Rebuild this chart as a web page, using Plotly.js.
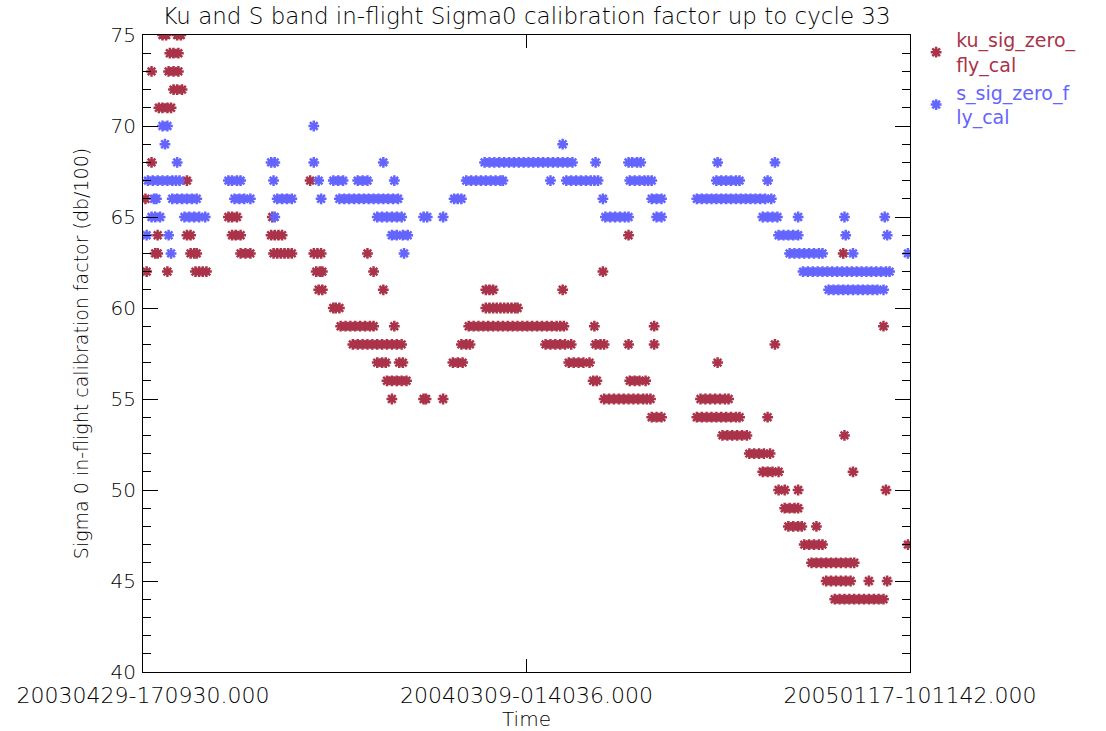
<!DOCTYPE html>
<html>
<head>
<meta charset="utf-8">
<script src="https://cdn.plot.ly/plotly-3.0.1.min.js"></script>
<style>
  html, body { margin: 0; padding: 0; background: #fff; }
  #chart { width: 1106px; height: 731px; }
</style>
</head>
<body>
<div id="chart"></div>
<script>
// Time axis: days elapsed since 20030429-170930.000
const timeTickDays = [0, 314.355, 628.71];
const timeTickLabels = ['20030429-170930.000', '20040309-014036.000', '20050117-101142.000'];

// Ku band in-flight Sigma0 calibration factor (db/100): [value, days at which it occurs]
const kuRows = [
  [75, [16, 19, 28, 31]],
  [74, [22, 25, 29]],
  [73, [7, 21, 25, 29]],
  [72, [25, 28, 32]],
  [71, [13, 16, 20, 23]],
  [68, [7]],
  [67, [36, 137]],
  [66, [2]],
  [65, [70, 73, 77, 106]],
  [64, [12, 36, 39, 73, 76, 80, 105, 108, 111, 114, 398]],
  [63, [10, 12, 39, 42, 44, 80, 84, 88, 107, 110, 113, 116, 119, 122, 140, 143, 146, 184, 574]],
  [62, [3, 20, 43, 46, 49, 52, 142, 145, 147, 189, 377]],
  [61, [144, 147, 197, 281, 284, 287, 344]],
  [60, [156, 158, 161, 281, 284, 287, 290, 293, 296, 299, 302, 305, 307]],
  [59, [162, 166, 170, 174, 178, 182, 186, 189, 206, 267, 271, 275, 279, 283, 287, 291, 295, 299,
        303, 307, 311, 315, 319, 323, 327, 331, 335, 339, 342, 345, 370, 419, 607]],
  [58, [172, 176, 180, 184, 188, 192, 196, 200, 204, 208, 212, 261, 265, 268, 330, 334, 338, 342,
        346, 351, 371, 375, 378, 398, 419, 518]],
  [57, [192, 196, 199, 210, 213, 254, 258, 262, 349, 353, 357, 361, 366, 471]],
  [56, [200, 204, 208, 212, 216, 369, 372, 399, 403, 407, 412]],
  [55, [204, 230, 232, 246, 378, 382, 386, 390, 394, 398, 402, 406, 410, 413, 416,
        457, 461, 465, 469, 473, 477, 480]],
  [54, [417, 421, 425, 454, 458, 462, 466, 470, 474, 478, 482, 486, 489, 512]],
  [53, [475, 479, 483, 487, 491, 495, 575]],
  [52, [497, 501, 505, 509, 514]],
  [51, [508, 512, 516, 521, 582]],
  [50, [521, 526, 537, 609]],
  [49, [526, 530, 534, 537]],
  [48, [529, 533, 537, 540, 552]],
  [47, [542, 546, 550, 554, 557, 627]],
  [46, [548, 552, 556, 560, 564, 568, 572, 576, 580, 583]],
  [45, [560, 564, 568, 572, 576, 580, 595, 610]],
  [44, [567, 571, 575, 579, 583, 587, 591, 595, 599, 603, 607]]
];

// S band in-flight Sigma0 calibration factor (db/100): [value, days at which it occurs]
const sRows = [
  [70, [16, 20, 140]],
  [69, [18, 344]],
  [68, [28, 105, 108, 140, 197, 280, 284, 288, 292, 296, 300, 304, 308, 312, 316, 320, 324, 328,
        332, 336, 340, 344, 348, 352, 371, 398, 401, 405, 408, 471, 518]],
  [67, [4, 8, 12, 16, 20, 24, 27, 30, 70, 73, 77, 80, 107, 144, 156, 160, 164, 176, 180, 184, 206,
        265, 269, 273, 277, 281, 285, 289, 293, 295, 334, 347, 351, 355, 359, 363, 367, 370, 373,
        399, 403, 407, 411, 414, 417, 470, 474, 478, 482, 486, 489, 512]],
  [66, [9, 11, 24, 28, 32, 36, 40, 44, 75, 79, 83, 88, 110, 114, 118, 122, 146, 161, 165, 169, 173,
        177, 181, 185, 189, 193, 197, 201, 205, 209, 255, 258, 261, 377, 417, 421, 425, 454, 458,
        462, 466, 470, 474, 478, 482, 486, 490, 494, 498, 502, 506, 510, 515]],
  [65, [7, 10, 14, 34, 38, 42, 46, 51, 108, 192, 196, 200, 204, 208, 212, 230, 233, 246, 379, 383,
        387, 391, 395, 398, 421, 425, 508, 512, 516, 520, 537, 575, 608]],
  [64, [3, 21, 204, 208, 213, 217, 521, 525, 529, 533, 537, 576, 610]],
  [63, [23, 214, 530, 534, 538, 542, 546, 550, 554, 557, 582, 627]],
  [62, [541, 545, 549, 553, 557, 561, 565, 569, 573, 577, 581, 585, 589, 593, 597, 601, 605, 609, 612]],
  [61, [562, 566, 570, 574, 578, 582, 586, 590, 594, 598, 602, 607]]
];

const kuColor = '#aa3349';
const sColor = '#6464ff';
const fontFamily = '"DejaVu Sans", "Liberation Sans", sans-serif';

function flatten(rows) {
  const x = [], y = [];
  rows.forEach(([val, days]) => days.forEach(d => { x.push(d); y.push(val); }));
  return { x, y };
}

const ku = flatten(kuRows);
const s = flatten(sRows);

const markerBase = { symbol: 'asterisk-open', size: 9 };

function legendName(lines, color) {
  return lines.map(t => '<span style="color:' + color + '">' + t + '</span>').join('<br>');
}

const traces = [
  {
    type: 'scatter', mode: 'markers', x: ku.x, y: ku.y,
    name: legendName(['ku_sig_zero_', 'fly_cal'], kuColor),
    marker: Object.assign({}, markerBase, { color: kuColor, line: { color: kuColor, width: 2.5 } }),
    hoverinfo: 'x+y'
  },
  {
    type: 'scatter', mode: 'markers', x: s.x, y: s.y,
    name: legendName(['s_sig_zero_f', 'ly_cal'], sColor),
    marker: Object.assign({}, markerBase, { color: sColor, line: { color: sColor, width: 2.5 } }),
    hoverinfo: 'x+y'
  }
];

const layout = {
  width: 1106,
  height: 731,
  margin: { l: 143, r: 196, t: 35, b: 59 },
  paper_bgcolor: '#ffffff',
  plot_bgcolor: '#ffffff',
  font: { family: fontFamily, color: '#000000' },
  title: {
    text: 'Ku and S band in-flight Sigma0 calibration factor up to cycle 33',
    font: { family: fontFamily, size: 23, color: '#000000', weight: 300 },
    x: 0.5, xref: 'paper', xanchor: 'center',
    y: 1, yref: 'container', yanchor: 'top', pad: { t: 8 }
  },
  xaxis: {
    range: [0, 628.71],
    tickmode: 'array',
    tickvals: timeTickDays,
    ticktext: timeTickLabels,
    ticks: 'inside', ticklen: 13, tickwidth: 1, tickcolor: '#000',
    showline: true, linecolor: '#000', linewidth: 1, mirror: 'ticks',
    showgrid: false, zeroline: false,
    ticklabelstandoff: 4,
    tickfont: { family: fontFamily, size: 22, color: '#000', weight: 300 },
    title: { text: 'Time', font: { family: fontFamily, size: 20, color: '#000', weight: 300 }, standoff: 4 }
  },
  yaxis: {
    range: [40, 75],
    tickmode: 'linear', tick0: 40, dtick: 5,
    ticks: 'inside', ticklen: 15, tickwidth: 1, tickcolor: '#000',
    minor: { dtick: 1, ticks: 'inside', ticklen: 8, tickwidth: 1, tickcolor: '#000', showgrid: false },
    showline: true, linecolor: '#000', linewidth: 1, mirror: 'ticks',
    showgrid: false, zeroline: false,
    ticklabelstandoff: 2,
    tickfont: { family: fontFamily, size: 20, color: '#000', weight: 300 },
    title: {
      text: 'Sigma 0 in-flight calibration factor (db/100)',
      font: { family: fontFamily, size: 19, color: '#000', weight: 300 },
      standoff: 16
    }
  },
  showlegend: true,
  legend: {
    x: 1.008, xref: 'paper', xanchor: 'left',
    y: 1.022, yref: 'paper', yanchor: 'top',
    bgcolor: 'rgba(0,0,0,0)', borderwidth: 0,
    font: { family: fontFamily, size: 19, color: '#000' },
    itemwidth: 30,
    tracegroupgap: 0
  }
};

Plotly.newPlot('chart', traces, layout, { displayModeBar: false, staticPlot: true });
</script>
</body>
</html>
